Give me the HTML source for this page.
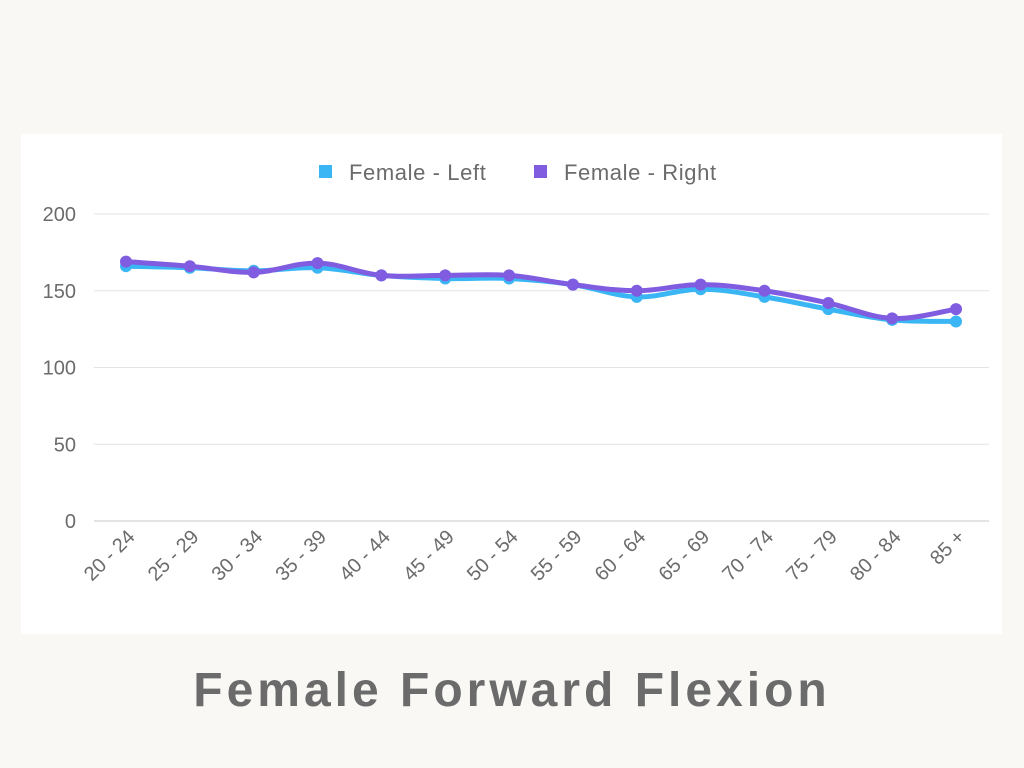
<!DOCTYPE html>
<html><head><meta charset="utf-8"><style>
body{margin:0;width:1024px;height:768px;background:#f9f8f4;font-family:"Liberation Sans",sans-serif;overflow:hidden}
#card{position:absolute;left:21px;top:134px;width:981px;height:500px;background:#fff}
#title{position:absolute;left:0;width:1024px;top:663px;text-align:center;font-size:48px;font-weight:bold;color:#6b6b6b;letter-spacing:4px}
</style></head><body>
<div id="card"></div>
<svg id="chart" width="1024" height="768" style="position:absolute;left:0;top:0"></svg>
<div id="title">Female Forward Flexion</div>
<script>
const categories=["20 - 24","25 - 29","30 - 34","35 - 39","40 - 44","45 - 49","50 - 54","55 - 59","60 - 64","65 - 69","70 - 74","75 - 79","80 - 84","85 +"];
const leftVals=[166,165,163,165,160,158,158,154,146,151,146,138,131,130];
const rightVals=[169,166,162,168,160,160,160,154,150,154,150,142,132,138];
const yTicks=[0,50,100,150,200];
const seriesNames=["Female - Left","Female - Right"];
const colors=["#3bb6f5","#7f5ce0"];
const NS="http://www.w3.org/2000/svg";
const svg=document.getElementById('chart');
const x0=126,x1=956,y0=521,y1=214;
const xs=i=>x0+(x1-x0)*i/(categories.length-1);
const ys=v=>y0-(y0-y1)*v/200;
function el(t,a){const e=document.createElementNS(NS,t);for(const k in a)e.setAttribute(k,a[k]);svg.appendChild(e);return e;}
yTicks.forEach(t=>{
  const g=el('line',{x1:94,x2:989,y1:ys(t),y2:ys(t),stroke:t===0?'#c8c8c8':'#e3e3e3','stroke-width':1});
  
  
  const tx=el('text',{x:76,y:ys(t)+7,'text-anchor':'end','font-size':20,fill:'#6b6b6b','font-family':'Liberation Sans, sans-serif'});
  tx.textContent=t;
  
  
});
categories.forEach((c,i)=>{
  const tx=el('text',{x:xs(i)+10,y:538,'text-anchor':'end','font-size':20,fill:'#6b6b6b','font-family':'Liberation Sans, sans-serif',transform:`rotate(-45 ${xs(i)+10} 538)`});
  tx.textContent=c;
  
  
});
function pathD(vals){
  const p=vals.map((v,i)=>[xs(i),ys(v)]);
  let d=`M${p[0][0]},${p[0][1]}`;
  for(let i=0;i<p.length-1;i++){
    const a=p[i-1]||p[i],b=p[i],c=p[i+1],e=p[i+2]||c;
    const t=0.18;
    d+=`C${b[0]+(c[0]-a[0])*t},${b[1]+(c[1]-a[1])*t} ${c[0]-(e[0]-b[0])*t},${c[1]-(e[1]-b[1])*t} ${c[0]},${c[1]}`;
  }
  return d;
}
[leftVals,rightVals].forEach((vals,s)=>{
  const p=el('path',{d:pathD(vals),fill:'none',stroke:colors[s],'stroke-width':5,'stroke-linejoin':'round'});
  
  
  vals.forEach((v,i)=>{
    const c=el('circle',{cx:xs(i),cy:ys(v),r:6,fill:colors[s]});
    
    
  });
});
const lx=[319,534];
seriesNames.forEach((n,s)=>{
  const r=el('rect',{x:lx[s],y:165,width:13,height:13,fill:colors[s]});
  
  
  const t=el('text',{x:lx[s]+30,y:180,'font-size':22,'letter-spacing':'0.6',fill:'#6b6b6b','font-family':'Liberation Sans, sans-serif'});
  t.textContent=n;
  
  
});
</script>
</body></html>
